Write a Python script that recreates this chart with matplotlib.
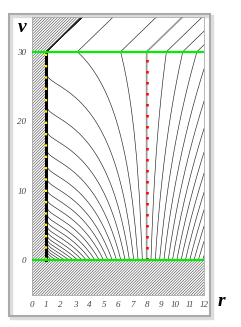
import numpy as np
import matplotlib.pyplot as plt
from matplotlib.patches import Polygon, Rectangle

# horizons of the charged region (0 < v < 30), flat space above v = 30
r_plus = 8.0
r_minus = 1.0
v_on = 0.0
v_off = 30.0

# radii where the outgoing light rays leave the line v = 0
ray_r0 = [1.1, 1.4, 1.7, 2.0, 2.3, 2.6, 2.9, 3.2, 3.5, 3.8, 4.1, 4.4,
          4.7, 5.0, 5.3, 5.6, 5.9, 6.2, 6.5, 6.8, 7.1, 7.4, 7.7,
          8.3, 8.6, 8.9, 9.2, 9.5, 9.8, 10.1, 10.4, 10.7, 11.0, 11.3,
          11.6, 11.9]

x_ticks = [0, 1, 2, 3, 4, 5, 6, 7, 8, 9, 10, 11, 12]
y_ticks = [0, 10, 20, 30]
r_lim = (0, 12)
v_lim = (-5, 35)


def tortoise(x_minus, r):
    # x_minus = r - r_minus kept separately so log stays exact near r_minus
    return (r + (r_plus ** 2 * np.log(np.abs(r - r_plus))
                 - r_minus ** 2 * np.log(x_minus)) / (r_plus - r_minus))


def ray(r0):
    if r0 < r_plus:
        x = (r0 - r_minus) * np.logspace(0, -80, 6000)
    else:
        x = np.linspace(r0 - r_minus, 20, 3000)
    rr = r_minus + x
    vv = v_on + 2 * (tortoise(x, rr) - tortoise(r0 - r_minus, r0))
    keep = vv <= v_off
    r_seg = list(rr[keep])
    v_seg = list(vv[keep])
    if vv.max() > v_off:
        r_c = np.interp(v_off, vv, rr)
        r_seg += [r_c, r_c + (v_lim[1] - v_off) / 2]
        v_seg += [v_off, v_lim[1]]
    return r_seg, v_seg


fig = plt.figure(figsize=(2.41, 3.27), dpi=100)
ax = fig.add_axes([32 / 241, 1 - 295 / 327, 172 / 241, 278 / 327])

plt.rcParams['hatch.linewidth'] = 0.4
hatch_poly = [(0, v_lim[0]), (12, v_lim[0]), (12, v_on), (r_minus, v_on),
              (r_minus, v_off), (r_minus + (v_lim[1] - v_off) / 2, v_lim[1]),
              (0, v_lim[1])]
ax.add_patch(Polygon(hatch_poly, closed=True, facecolor='white',
                     edgecolor='#444444', hatch='/' * 12, linewidth=0,
                     zorder=1))

for r0 in ray_r0:
    rs, vs = ray(r0)
    ax.plot(rs, vs, color='#222222', lw=0.45, zorder=2)

# horizon ray r = r_plus
ax.plot([r_plus, r_plus, r_plus + (v_lim[1] - v_off) / 2],
        [v_on, v_off, v_lim[1]], color='#999999', lw=1.2, zorder=3)
ax.plot([r_plus, r_plus], [v_on, v_off], color='#ff0000', lw=1.8,
        ls=(0, (1, 3.4)), zorder=4)

# inner surface r = r_minus
ax.plot([r_minus, r_minus], [v_on, v_off], color='black', lw=2.2, zorder=3)
ax.plot([r_minus, r_minus], [v_on, v_off], color='#ffee00', lw=1.7,
        ls=(0, (1, 3.8)), zorder=4)

ax.plot([0, 12], [v_on, v_on], color='#00ee00', lw=1.6, zorder=5)
ax.plot([0, 12], [v_off, v_off], color='#00ee00', lw=1.6, zorder=5)

ax.set_xlim(r_lim)
ax.set_ylim(v_lim)
ax.set_xticks(x_ticks)
ax.set_yticks(y_ticks)
ax.tick_params(length=0, pad=4, labelsize=6.5, labelcolor='#444444')
for lab in ax.get_xticklabels() + ax.get_yticklabels():
    lab.set_fontfamily('Liberation Serif')
    lab.set_fontstyle('italic')
for s in ax.spines.values():
    s.set_color('#aaaaaa')
    s.set_linewidth(0.6)

fig.text(22 / 241, 1 - 27 / 327, 'v', fontsize=14, fontweight='bold',
         fontstyle='italic', family='Liberation Serif', ha='center',
         va='center')
fig.text(221 / 241, 1 - 301 / 327, 'r', fontsize=14, fontweight='bold',
         fontstyle='italic', family='Liberation Serif', ha='center',
         va='center')

# grey picture frame with a soft shadow
fig.patches.append(Rectangle((11 / 241, 1 - 318 / 327), 201 / 241, 302 / 327,
                             transform=fig.transFigure, fill=False,
                             edgecolor='#dddddd', lw=2.5, zorder=-2))
fig.patches.append(Rectangle((9 / 241, 1 - 316 / 327), 201 / 241, 302 / 327,
                             transform=fig.transFigure, fill=False,
                             edgecolor='#aaaaaa', lw=1.5, zorder=-1))

fig.savefig('out.png', dpi=100)
